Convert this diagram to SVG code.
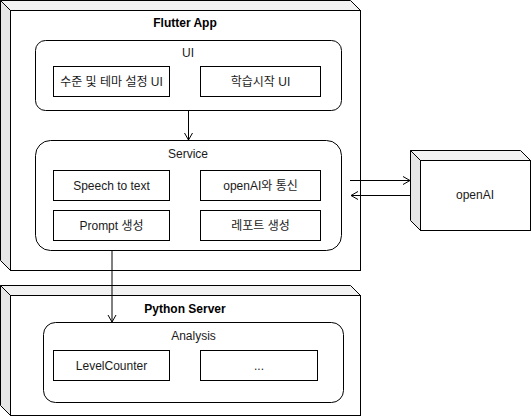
<svg xmlns="http://www.w3.org/2000/svg" width="531" height="416" viewBox="0 0 531 416">
<defs>
<style>
.front{fill:#ffffff;stroke:#000;stroke-width:1}
.top{fill:#f2f2f2;stroke:#000;stroke-width:1}
.side{fill:#e6e6e6;stroke:#000;stroke-width:1}
.cont{fill:#ffffff;stroke:#000;stroke-width:1}
.box{fill:#ffffff;stroke:#000;stroke-width:1}
.t{font-family:"Liberation Sans","Noto Sans CJK KR",Arial,sans-serif;font-size:12px;fill:#1a1a1a;text-anchor:middle;dominant-baseline:central}
.b{font-weight:bold;fill:#000}
.edge{fill:none;stroke:#000;stroke-width:1}
</style>
<marker id="open" markerUnits="userSpaceOnUse" markerWidth="12" markerHeight="12" viewBox="-8 -6 10 12" refX="0" refY="0" orient="auto">
<path d="M-7,-4 L0,0 L-7,4" fill="none" stroke="#000" stroke-width="1"/>
</marker>
</defs>

<g id="flutter-app">
<polygon class="top" points="0.5,0.5 350.5,0.5 360.5,10.5 10.5,10.5"/>
<polygon class="side" points="0.5,0.5 10.5,10.5 10.5,270.5 0.5,260.5"/>
<rect class="front" x="10.5" y="10.5" width="350" height="260"/>
<text class="t b" x="185" y="23">Flutter App</text>
</g>

<g id="ui">
<rect class="cont" x="35.5" y="40.5" width="306" height="70" rx="10" ry="10"/>
<text class="t" x="188" y="53">UI</text>
</g>
<g id="level-theme-ui">
<rect class="box" x="53.5" y="66.5" width="116" height="30"/>
<text class="t" x="111.5" y="81.5">수준 및 테마 설정 UI</text>
</g>
<g id="study-start-ui">
<rect class="box" x="200.5" y="66.5" width="120" height="30"/>
<text class="t" x="260.5" y="81.5">학습시작 UI</text>
</g>

<g id="service">
<rect class="cont" x="35.5" y="140.5" width="306" height="110" rx="15" ry="15"/>
<text class="t" x="188" y="154">Service</text>
</g>
<g id="speech-to-text">
<rect class="box" x="53.5" y="170.5" width="116" height="30"/>
<text class="t" x="111.5" y="185.5">Speech to text</text>
</g>
<g id="openai-comm">
<rect class="box" x="200.5" y="170.5" width="120" height="30"/>
<text class="t" x="260.5" y="185.5">openAI와 통신</text>
</g>
<g id="prompt">
<rect class="box" x="53.5" y="210.5" width="116" height="30"/>
<text class="t" x="111.5" y="225.5">Prompt 생성</text>
</g>
<g id="report">
<rect class="box" x="200.5" y="210.5" width="120" height="30"/>
<text class="t" x="260.5" y="225.5">레포트 생성</text>
</g>

<g id="python-server">
<polygon class="top" points="0.5,285.5 350.5,285.5 360.5,295.5 10.5,295.5"/>
<polygon class="side" points="0.5,285.5 10.5,295.5 10.5,415.5 0.5,405.5"/>
<rect class="front" x="10.5" y="295.5" width="350" height="120"/>
<text class="t b" x="185" y="309">Python Server</text>
</g>

<g id="analysis">
<rect class="cont" x="43.5" y="322.5" width="300" height="80" rx="12" ry="12"/>
<text class="t" x="193.5" y="336">Analysis</text>
</g>
<g id="level-counter">
<rect class="box" x="53.5" y="350.5" width="116" height="30"/>
<text class="t" x="111.5" y="365.5">LevelCounter</text>
</g>
<g id="etc">
<rect class="box" x="200.5" y="350.5" width="117" height="30"/>
<text class="t" x="259" y="365.5">...</text>
</g>

<g id="openai">
<polygon class="top" points="410.5,150.5 520.5,150.5 530.5,160.5 420.5,160.5"/>
<polygon class="side" points="410.5,150.5 420.5,160.5 420.5,230.5 410.5,220.5"/>
<rect class="front" x="420.5" y="160.5" width="110" height="70"/>
<text class="t" x="475" y="195">openAI</text>
</g>

<g id="connectors">
<path class="edge" d="M188.5,110.5 L188.5,140" marker-end="url(#open)"/>
<path class="edge" d="M112,250.5 L112,322" marker-end="url(#open)"/>
<path class="edge" d="M350,180.5 L410,180.5" marker-end="url(#open)"/>
<path class="edge" d="M410.5,195.5 L351,195.5" marker-end="url(#open)"/>
</g>
</svg>
